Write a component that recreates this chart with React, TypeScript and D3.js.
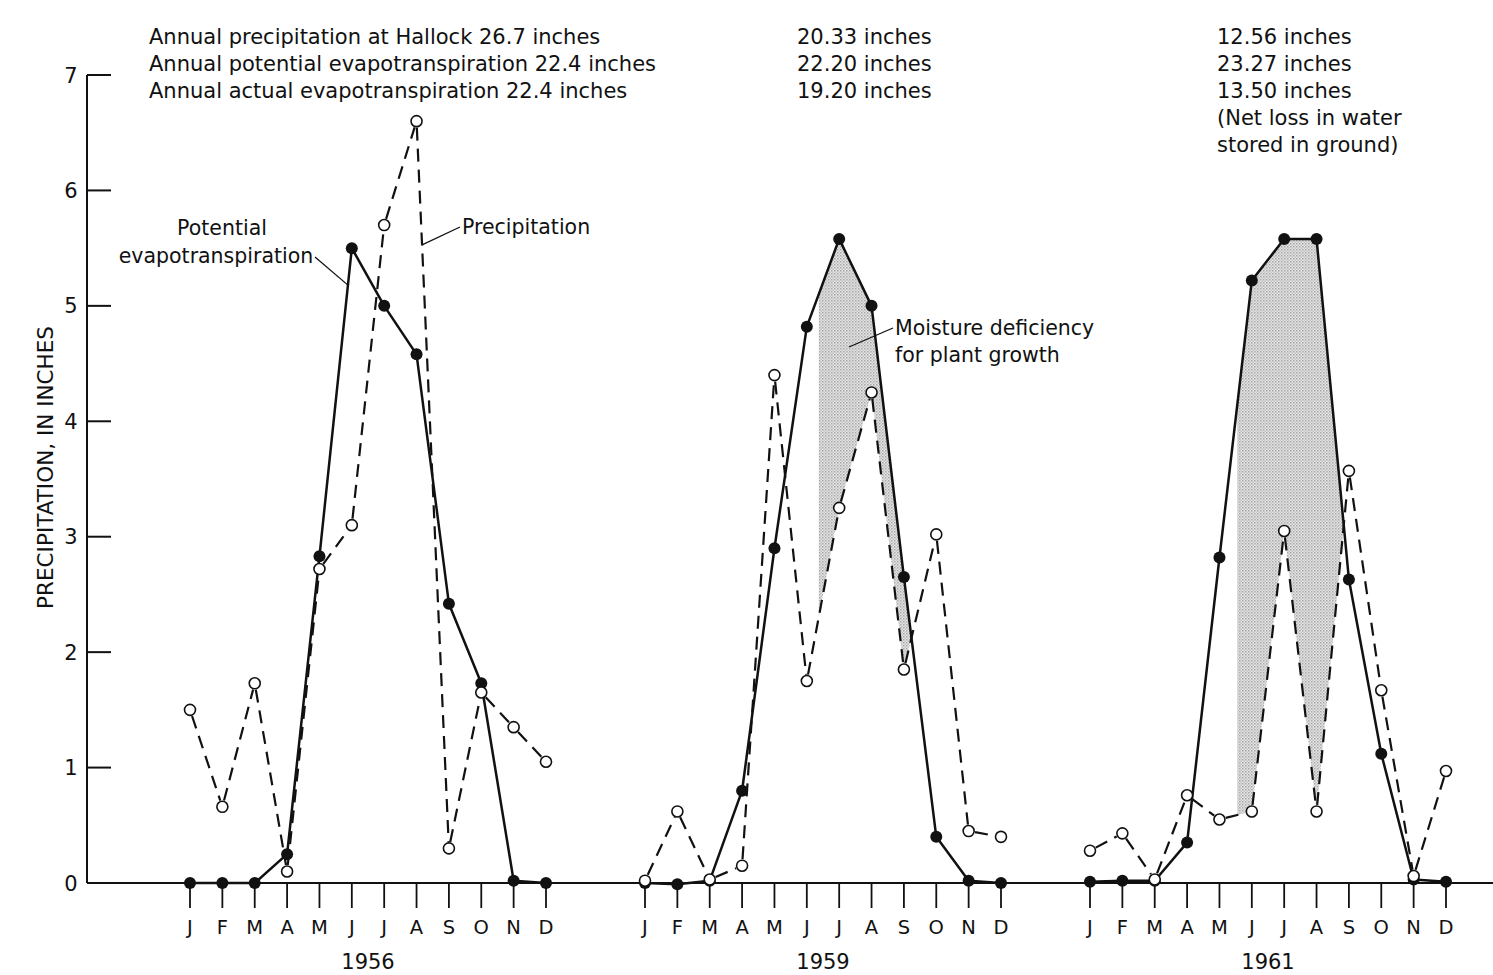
import React from 'react';
import * as d3 from 'd3';

const MONTHS = ['J', 'F', 'M', 'A', 'M', 'J', 'J', 'A', 'S', 'O', 'N', 'D'];
const YEARS = ['1956', '1959', '1961'];

// monthly values, inches
const PE_1956 = [0, 0, 0, 0.25, 2.83, 5.5, 5.0, 4.58, 2.42, 1.73, 0.02, 0];
const PRECIP_1956 = [1.5, 0.66, 1.73, 0.1, 2.72, 3.1, 5.7, 6.6, 0.3, 1.65, 1.35, 1.05];
const PE_1959 = [0, -0.01, 0.02, 0.8, 2.9, 4.82, 5.58, 5.0, 2.65, 0.4, 0.02, 0];
const PRECIP_1959 = [0.02, 0.62, 0.03, 0.15, 4.4, 1.75, 3.25, 4.25, 1.85, 3.02, 0.45, 0.4];
const PE_1961 = [0.01, 0.02, 0.02, 0.35, 2.82, 5.22, 5.58, 5.58, 2.63, 1.12, 0.03, 0.01];
const PRECIP_1961 = [0.28, 0.43, 0.03, 0.76, 0.55, 0.62, 3.05, 0.62, 3.57, 1.67, 0.06, 0.97];

// month (fractional) where the shaded deficiency starts, per year
const DEFICIT_START = [null, 5.37, 4.55];

const SUMMARY_1956 = [
  'Annual precipitation at Hallock 26.7 inches',
  'Annual potential evapotranspiration 22.4 inches',
  'Annual actual evapotranspiration 22.4 inches',
];
const SUMMARY_1959 = ['20.33 inches', '22.20 inches', '19.20 inches'];
const SUMMARY_1961 = ['12.56 inches', '23.27 inches', '13.50 inches', '(Net loss in water', 'stored in ground)'];

const Y_TICKS = [0, 1, 2, 3, 4, 5, 6, 7];

const PE = [PE_1956, PE_1959, PE_1961];
const PRECIP = [PRECIP_1956, PRECIP_1959, PRECIP_1961];
const SUMMARIES = [SUMMARY_1956, SUMMARY_1959, SUMMARY_1961];

const W = 1493;
const H = 975;
const FONT = '"DejaVu Sans", Verdana, sans-serif';

const yScale = d3.scaleLinear().domain([0, 7]).range([883, 75]);
// left edge (January) of each year's group
const yearScale = d3.scaleOrdinal<string, number>().domain(YEARS).range([190, 645, 1090]);
const monthScale = d3.scaleLinear().domain([0, 11]).range([0, 356]);

const xAt = (yi: number, m: number) => yearScale(YEARS[yi]) + monthScale(m);
const interp = (arr: number[], m: number) => {
  const i = Math.min(Math.floor(m), arr.length - 2);
  const t = m - i;
  return arr[i] * (1 - t) + arr[i + 1] * t;
};

const App = () => {
  const axisX = 87;

  // shaded deficiency areas
  const deficitPaths = DEFICIT_START.map((start, yi) => {
    if (start == null) return null;
    const pe = PE[yi];
    const pr = PRECIP[yi];
    const ms: number[] = [start];
    let end = 11;
    for (let k = Math.ceil(start); k < 12; k++) {
      const diff = pe[k] - pr[k];
      if (diff < 0) {
        const prev = pe[k - 1] - pr[k - 1];
        end = k - 1 + prev / (prev - diff);
        break;
      }
      ms.push(k);
    }
    ms.push(end);
    const area = d3
      .area<number>()
      .x((m) => xAt(yi, m))
      .y0((m) => yScale(interp(pr, m)))
      .y1((m) => yScale(interp(pe, m)));
    return area(ms);
  });

  const peLine = (yi: number) =>
    d3
      .line<number>()
      .x((_, i) => xAt(yi, i))
      .y((d) => yScale(d))(PE[yi]);

  // precipitation drawn as separate dashed segments between circles
  const rOpen = 5.5;
  const precipSegments = (yi: number) => {
    const arr = PRECIP[yi];
    const segs: string[] = [];
    for (let i = 0; i < 11; i++) {
      const x1 = xAt(yi, i);
      const y1 = yScale(arr[i]);
      const x2 = xAt(yi, i + 1);
      const y2 = yScale(arr[i + 1]);
      const len = Math.hypot(x2 - x1, y2 - y1);
      if (len < rOpen * 2 + 1) continue;
      const ux = (x2 - x1) / len;
      const uy = (y2 - y1) / len;
      const p = d3.path();
      p.moveTo(x1 + ux * (rOpen + 1), y1 + uy * (rOpen + 1));
      p.lineTo(x2 - ux * (rOpen + 1), y2 - uy * (rOpen + 1));
      segs.push(p.toString());
    }
    return segs;
  };

  // leader line anchors on the series
  const peLead = [xAt(0, 4.88), yScale(interp(PE_1956, 4.88))];
  const prLead = [xAt(0, 7.17), yScale(interp(PRECIP_1956, 7.17))];

  return (
    <svg
      width={W}
      height={H}
      style={{ position: 'absolute', left: 0, top: 0, background: '#fff' }}
      fontFamily={FONT}
    >
      <defs>
        <pattern id="stipple" width="3" height="3" patternUnits="userSpaceOnUse">
          <rect width="3" height="3" fill="#e4e4e4" />
          <rect width="1.5" height="1.5" fill="#a8a8a8" />
          <rect x="1.5" y="1.5" width="1.5" height="1.5" fill="#c4c4c4" />
        </pattern>
      </defs>

      {/* summary text */}
      {SUMMARIES.map((lines, yi) => (
        <text key={yi} fontSize={21} fill="#111">
          {lines.map((t, li) => (
            <tspan key={li} x={[149, 797, 1217][yi]} y={44 + li * 27}>
              {t}
            </tspan>
          ))}
        </text>
      ))}

      {/* shading */}
      {deficitPaths.map((d, i) => (d ? <path key={i} d={d} fill="url(#stipple)" stroke="none" /> : null))}

      {/* y axis */}
      <line x1={axisX} x2={axisX} y1={yScale(7)} y2={yScale(0)} stroke="#111" strokeWidth={2} />
      {Y_TICKS.map((t) => (
        <g key={t}>
          <line x1={axisX} x2={axisX + 24} y1={yScale(t)} y2={yScale(t)} stroke="#111" strokeWidth={2} />
          <text x={71} y={yScale(t)} dy="0.36em" textAnchor="middle" fontSize={21} fill="#111">
            {t}
          </text>
        </g>
      ))}
      <text
        transform={`translate(53, ${yScale(3.6)}) rotate(-90)`}
        textAnchor="middle"
        fontSize={21.5}
        fill="#111"
      >
        PRECIPITATION, IN INCHES
      </text>

      {/* x axis */}
      <line x1={axisX} x2={W} y1={yScale(0)} y2={yScale(0)} stroke="#111" strokeWidth={2} />
      {YEARS.map((yr, yi) => (
        <g key={yr}>
          {MONTHS.map((m, mi) => (
            <g key={mi}>
              <line
                x1={xAt(yi, mi)}
                x2={xAt(yi, mi)}
                y1={yScale(0)}
                y2={yScale(0) + 25}
                stroke="#111"
                strokeWidth={1.8}
              />
              <text x={xAt(yi, mi)} y={934} textAnchor="middle" fontSize={19.5} fill="#111">
                {m}
              </text>
            </g>
          ))}
          <text x={xAt(yi, 5.5)} y={969} textAnchor="middle" fontSize={21} fill="#111">
            {yr}
          </text>
        </g>
      ))}

      {/* series */}
      {YEARS.map((yr, yi) => (
        <g key={yr}>
          {precipSegments(yi).map((d, i) => (
            <path key={i} d={d} fill="none" stroke="#111" strokeWidth={2.2} strokeDasharray="13,8" />
          ))}
          <path d={peLine(yi) || ''} fill="none" stroke="#111" strokeWidth={2.5} strokeLinejoin="round" />
          {PE[yi].map((v, i) => (
            <circle key={'pe' + i} cx={xAt(yi, i)} cy={yScale(v)} r={6} fill="#111" />
          ))}
          {PRECIP[yi].map((v, i) => (
            <circle
              key={'pr' + i}
              cx={xAt(yi, i)}
              cy={yScale(v)}
              r={rOpen}
              fill="#fff"
              stroke="#111"
              strokeWidth={1.6}
            />
          ))}
        </g>
      ))}

      {/* annotations */}
      <text x={222} y={235} textAnchor="middle" fontSize={20.5} fill="#111">
        Potential
      </text>
      <text x={216} y={263} textAnchor="middle" fontSize={20.5} fill="#111">
        evapotranspiration
      </text>
      <line x1={315} y1={257} x2={peLead[0]} y2={peLead[1]} stroke="#111" strokeWidth={1.3} />

      <text x={462} y={234} fontSize={20.5} fill="#111">
        Precipitation
      </text>
      <line x1={460} y1={227} x2={prLead[0]} y2={prLead[1]} stroke="#111" strokeWidth={1.3} />

      <text x={895} y={335} fontSize={20.5} fill="#111">
        Moisture deficiency
      </text>
      <text x={895} y={362} fontSize={20.5} fill="#111">
        for plant growth
      </text>
      <line x1={893} y1={328} x2={849} y2={347} stroke="#111" strokeWidth={1.3} />
    </svg>
  );
};

export default App;
